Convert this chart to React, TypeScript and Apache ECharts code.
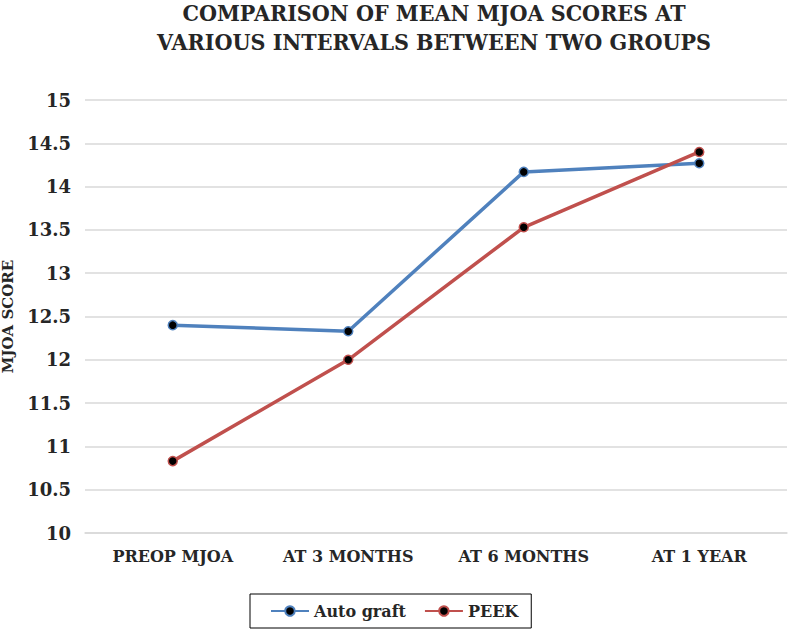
import React, { useEffect, useRef } from "react";
import * as echarts from "echarts";

const categories = ["PREOP MJOA", "AT 3 MONTHS", "AT 6 MONTHS", "AT 1 YEAR"];
const autoGraft = [12.4, 12.33, 14.17, 14.27];
const peek = [10.83, 12.0, 13.53, 14.4];
const seriesNames = ["Auto graft", "PEEK"];
const titleLines = ["COMPARISON OF MEAN MJOA SCORES AT", "VARIOUS INTERVALS BETWEEN TWO GROUPS"];
const yAxisName = "MJOA SCORE";

const serif = "'DejaVu Serif', 'Liberation Serif', serif";

export default function App() {
  const ref = useRef<HTMLDivElement>(null);
  useEffect(() => {
    if (!ref.current) return;
    const chart = echarts.init(ref.current, null, { renderer: "svg" });
    const mk = (name: string, data: number[], color: string) => ({
      name,
      type: "line",
      data,
      symbol: "circle",
      symbolSize: 9,
      lineStyle: { color, width: 3.5 },
      itemStyle: { color: "#000", borderColor: color, borderWidth: 1.5 },
      emphasis: { disabled: true },
    });
    chart.setOption({
      animation: false,
      backgroundColor: "#fff",
      graphic: titleLines.map((t, i) => ({
        type: "text",
        x: 434,
        y: 1 + i * 29,
        scaleX: 0.9,
        style: {
          text: t,
          textAlign: "center",
          textVerticalAlign: "top",
          fontFamily: serif,
          fontWeight: "bold",
          fontSize: 23,
          lineHeight: 24,
          fill: "#262626",
        },
      })),
      grid: {
        left: 85,
        right: 1,
        top: 100,
        bottom: 97,
        containLabel: false,
        outerBoundsMode: "none",
      },
      xAxis: {
        type: "category",
        data: categories,
        boundaryGap: true,
        axisLine: { show: true, lineStyle: { color: "#d9d9d9", width: 1.5 } },
        axisTick: { show: false },
        axisLabel: {
          margin: 15,
          fontFamily: serif,
          fontWeight: "bold",
          fontSize: 16,
          color: "#262626",
        },
      },
      yAxis: {
        type: "value",
        min: 10,
        max: 15,
        interval: 0.5,
        name: yAxisName,
        nameLocation: "middle",
        nameGap: 70,
        nameTextStyle: {
          fontFamily: serif,
          fontWeight: "bold",
          fontSize: 15,
          color: "#262626",
        },
        axisLine: { show: false },
        axisTick: { show: false },
        splitLine: { lineStyle: { color: "#d9d9d9", width: 1.5 } },
        axisLabel: {
          margin: 14,
          fontFamily: serif,
          fontWeight: "bold",
          fontSize: 18,
          color: "#262626",
        },
      },
      legend: {
        data: seriesNames,
        left: 250,
        top: 594,
        padding: [9, 13, 9, 20],
        borderColor: "#000",
        borderWidth: 1,
        itemWidth: 38,
        itemHeight: 12,
        itemGap: 18,
        textStyle: {
          fontFamily: serif,
          fontWeight: "bold",
          fontSize: 16,
          color: "#262626",
        },
      },
      series: [mk(seriesNames[0], autoGraft, "#4f81bd"), mk(seriesNames[1], peek, "#c0504d")],
    });
    return () => chart.dispose();
  }, []);
  return <div ref={ref} style={{ width: 788, height: 630, position: "absolute", left: 0, top: 0 }} />;
}
